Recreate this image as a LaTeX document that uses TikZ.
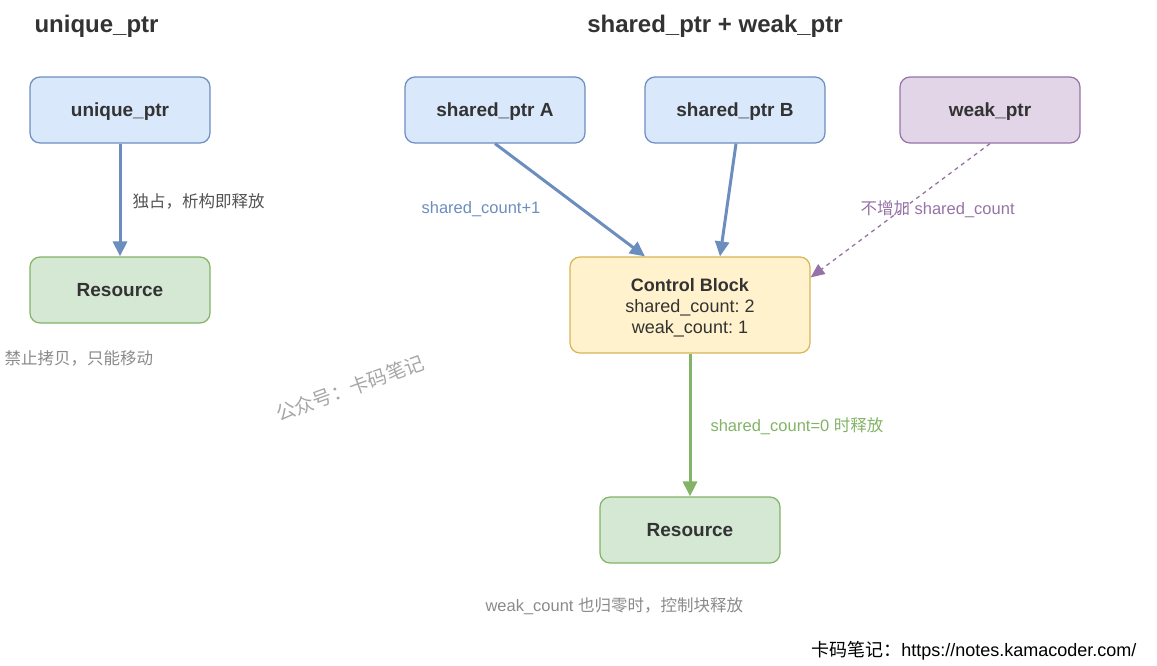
\documentclass[tikz,border=0pt]{standalone}
\usepackage{fontspec}
\setmainfont{Liberation Sans}
\newfontfamily\cjk{Noto Sans CJK SC}
\usetikzlibrary{arrows.meta}
\frenchspacing
\definecolor{bfill}{HTML}{DAE8FC}\definecolor{bline}{HTML}{6C8EBF}
\definecolor{gfill}{HTML}{D5E8D4}\definecolor{gline}{HTML}{82B366}
\definecolor{yfill}{HTML}{FFF2CC}\definecolor{yline}{HTML}{D6B656}
\definecolor{pfill}{HTML}{E1D5E7}\definecolor{pline}{HTML}{9673A6}
\definecolor{txt}{HTML}{333333}
\definecolor{note}{HTML}{8A8A8A}
\definecolor{wm}{HTML}{A6A6A6}
\tikzset{
  box/.style={draw, rounded corners=10pt, line width=1.2pt, minimum width=180pt, minimum height=66pt,
    font=\fontsize{19}{23}\selectfont\bfseries, text=txt, align=center, text depth=0pt},
  bluebox/.style={box, fill=bfill, draw=bline},
  greenbox/.style={box, fill=gfill, draw=gline},
  purplebox/.style={box, fill=pfill, draw=pline},
  yellowbox/.style={box, fill=yfill, draw=yline, minimum width=240pt, minimum height=96pt,
    font=\fontsize{18}{22}\selectfont},
  title/.style={font=\fontsize{24}{28}\selectfont\bfseries, text=txt},
  lbl/.style={font=\fontsize{16.5}{20}\selectfont},
  arr/.style={-{Triangle[length=15pt,width=14pt]}, line width=3pt},
}
\begin{document}
\begin{tikzpicture}[x=1pt,y=-1pt]
\useasboundingbox (0,0) rectangle (1157,665);
% titles
\node[title, anchor=west] (t1) at (31,26) {unique\_ptr};
\node[title] (t2) at (715,26) {shared\_ptr + weak\_ptr};
% left part
\node[bluebox] (u) at (120,110) {unique\_ptr};
\node[greenbox] (r1) at (120,290) {Resource};
\draw[arr, bline] (u.south) -- (r1.north);
\node[lbl, text=txt!85, anchor=west] (l1) at (129,201) {\cjk 独占，析构即释放};
\node[lbl, text=note, anchor=west] (l2) at (1,358) {\cjk 禁止拷贝，只能移动};
% right part
\node[bluebox] (a) at (495,110) {shared\_ptr A};
\node[bluebox] (b) at (735,110) {shared\_ptr B};
\node[purplebox] (w) at (990,110) {weak\_ptr};
\node[yellowbox] (cb) at (690,305) {\raisebox{-1.5pt}{\textbf{Control Block}}\\[-1pt]\raisebox{-1.5pt}{shared\_count: 2}\\[-1pt]\raisebox{-1.5pt}{weak\_count: 1}};
\node[greenbox] (r2) at (690,530) {Resource};
\draw[arr, bline] (a.south) -- ([xshift=-45pt]cb.north);
\draw[arr, bline] ([xshift=1pt]b.south) -- ([xshift=30pt]cb.north);
\draw[pline, line width=1.3pt, dash pattern=on 4pt off 4pt, -{Triangle[length=14pt,width=12pt]}] (w.south) -- ([yshift=-21pt]cb.north east);
\draw[arr, gline] (cb.south) -- (r2.north);
\node[lbl, text=bline] (l3) at (481,209) {shared\_count+1};
\node[lbl, text=pline, anchor=west] (l4) at (857,209) {{\cjk 不增加} shared\_count};
\node[lbl, text=gline, anchor=west] (l5) at (707,426) {shared\_count=0 {\cjk 时释放}};
\node[lbl, text=note, anchor=west] (l6) at (482,606) {weak\_count {\cjk 也归零时，控制块释放}};
% watermark
\node[text=wm, rotate=20, font=\fontsize{19.5}{23}\selectfont, inner sep=0pt] (wmk) at (350,388) {\cjk 公众号：卡码笔记};
% footer
\node[font=\fontsize{18}{21}\selectfont, text=black, anchor=east] (ft) at (1140,651) {{\cjk 卡码笔记：}https://notes.kamacoder.com/};
\end{tikzpicture}
\end{document}
